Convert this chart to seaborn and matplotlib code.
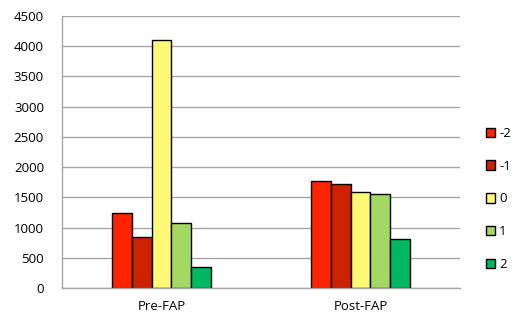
import matplotlib
matplotlib.use("Agg")
import matplotlib.pyplot as plt
import seaborn as sns
import pandas as pd
from matplotlib.patches import Patch

categories = ["Pre-FAP", "Post-FAP"]
series = ["-2", "-1", "0", "1", "2"]
pre_values = [1240, 840, 4100, 1080, 340]
post_values = [1770, 1720, 1580, 1560, 815]
colors = ["#FF2400", "#CC2200", "#FFF975", "#A5D763", "#00B862"]
yticks = [0, 500, 1000, 1500, 2000, 2500, 3000, 3500, 4000, 4500]

rows = []
for cat, vals in zip(categories, [pre_values, post_values]):
    for s, v in zip(series, vals):
        rows.append({"cat": cat, "series": s, "value": v})
df = pd.DataFrame(rows)

sns.set_style("white")
plt.rcParams["font.family"] = ["Open Sans", "DejaVu Sans"]
plt.rcParams["text.color"] = "black"
plt.rcParams["xtick.labelcolor"] = "black"
plt.rcParams["ytick.labelcolor"] = "black"

fs = 9.5
fig = plt.figure(figsize=(5.12, 3.14), dpi=100)
ax = fig.add_axes([62/512, 26/314, 398/512, 272/314])

sns.barplot(data=df, x="cat", y="value", hue="series", order=categories,
            hue_order=series, palette=colors, width=0.5, saturation=1,
            edgecolor="black", linewidth=1.0, ax=ax, legend=False)

ax.set_xlim(-0.5, 1.5)
ax.set_ylim(0, 4500)
ax.set_yticks(yticks)
ax.set_yticklabels([str(t) for t in yticks], fontsize=fs)
ax.yaxis.grid(True, color="#A6A6A6", linewidth=1)
ax.set_axisbelow(True)
ax.set_xlabel("")
ax.set_ylabel("")
ax.tick_params(axis="x", length=0, labelsize=fs, pad=9, labelcolor="black")
ax.tick_params(axis="y", length=5, color="#A6A6A6", direction="out", pad=8, labelcolor="black")
ax.set_xticks([-0.5, 0.5, 1.5], minor=True)
ax.tick_params(axis="x", which="minor", length=5, color="#A6A6A6", direction="out")
for side in ["top", "right"]:
    ax.spines[side].set_visible(False)
for side in ["left", "bottom"]:
    ax.spines[side].set_color("#A6A6A6")
    ax.spines[side].set_linewidth(1)

handles = [Patch(facecolor=c, edgecolor="black", linewidth=1, label=s) for c, s in zip(colors, series)]
fig.legend(handles=handles, loc="center left", bbox_to_anchor=(486/512, 1 - 199/314),
           frameon=False, fontsize=fs, handlelength=0.7, handleheight=0.7,
           handletextpad=0.3, labelspacing=1.5, borderaxespad=0, borderpad=0)

fig.savefig("out.png", dpi=100)
